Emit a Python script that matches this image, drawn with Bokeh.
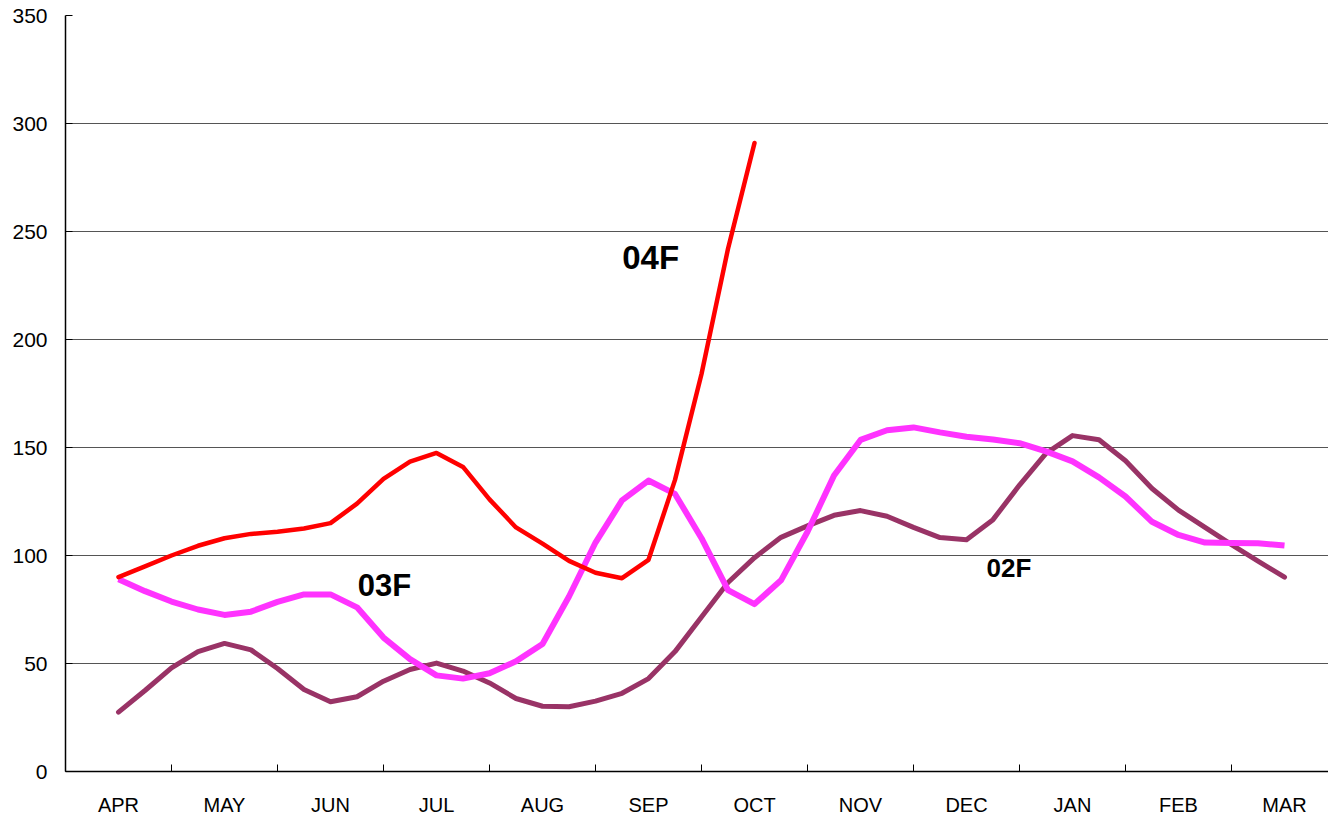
from bokeh.plotting import figure
from bokeh.models import FixedTicker, Range1d, ColumnDataSource
from bokeh.core.properties import value
from bokeh.embed import file_html
from bokeh.resources import INLINE

months = ["APR", "MAY", "JUN", "JUL", "AUG", "SEP", "OCT", "NOV", "DEC", "JAN", "FEB", "MAR"]

# positions in months from APR (quarter-month steps)
x_full = [i * 0.25 for i in range(45)]
x_04f = [i * 0.25 for i in range(25)]

s04f = [90, 95, 100, 104.5, 108, 110, 111, 112.5, 115, 124, 135.5, 143.5, 147.5,
        141, 126, 113, 105.5, 97.5, 92, 89.5, 98, 135, 184, 242, 291]

s03f = [89, 83.5, 78.7, 75, 72.5, 74, 78.5, 82, 82, 76, 62, 52, 44.5,
        43, 45.5, 51, 59, 81, 106, 125.5, 134.7, 128.5, 108, 84, 77.5,
        88.5, 111, 137, 153.5, 158, 159.3, 157, 155, 153.7, 152, 148.2, 143.6,
        136.2, 127.3, 115.6, 109.5, 106, 105.8, 105.7, 104.6]

s02f = [27.5, 37.5, 48, 55.5, 59.3, 56.3, 47.7, 38, 32.3, 34.6, 41.8, 47.2, 50.2,
        46.5, 41, 33.8, 30.2, 30, 32.6, 36.2, 43, 55.5, 71.5, 87.5, 99,
        108.4, 113.7, 118.6, 120.8, 118.2, 113, 108.3, 107.3, 116.6, 132.6, 147.3, 155.5,
        153.6, 143.9, 131, 121, 113, 105, 97.4, 90]

label_text = ["04F", "03F", "02F"]
label_x = [5.02, 2.51, 8.4]
label_y = [238, 86, 94]
label_size = ["33px", "31px", "26px"]

p = figure(width=1328, height=819, output_backend="svg", toolbar_location=None,
           x_range=Range1d(-0.5, 11.415), y_range=Range1d(0, 350),
           min_border_left=65, min_border_right=0, min_border_top=15, min_border_bottom=48)
p.outline_line_color = None
p.background_fill_color = "white"

p.line(x_full, s02f, line_color="#993366", line_width=5, line_join="round", line_cap="round")
p.line(x_full, s03f, line_color="#FF33FF", line_width=6, line_join="round")
p.line(x_04f, s04f, line_color="#FF0000", line_width=4.5, line_join="round", line_cap="round")

src = ColumnDataSource(dict(x=label_x, y=label_y, t=label_text, s=label_size))
p.text(x="x", y="y", text="t", source=src, text_align="center", text_baseline="middle",
       text_font=value("Liberation Sans"), text_font_style="bold", text_font_size="s",
       text_color="black")

# x axis
xa = p.xaxis[0]
xa.ticker = FixedTicker(ticks=list(range(12)), minor_ticks=[k - 0.5 for k in range(13)])
xa.major_label_overrides = {i: m for i, m in enumerate(months)}
xa.major_tick_in = 0
xa.major_tick_out = 0
xa.minor_tick_in = 7
xa.minor_tick_out = 0
xa.minor_tick_line_color = "black"
xa.axis_line_color = "black"
xa.axis_line_width = 1.5
xa.major_label_standoff = 22
xa.major_label_text_font = "Liberation Sans"
xa.major_label_text_font_size = "20px"
xa.major_label_text_color = "black"

# y axis
ya = p.yaxis[0]
ya.ticker = FixedTicker(ticks=[0, 50, 100, 150, 200, 250, 300, 350])
ya.major_tick_in = 7
ya.major_tick_out = 0
ya.minor_tick_in = 0
ya.minor_tick_out = 0
ya.axis_line_color = "black"
ya.axis_line_width = 1.5
ya.major_label_standoff = 18
ya.major_label_text_font = "Liberation Sans"
ya.major_label_text_font_size = "21px"
ya.major_label_text_color = "black"

p.xgrid.grid_line_color = None
p.ygrid.grid_line_color = "#555555"
p.ygrid.grid_line_width = 1.2

open("out.html", "w").write(file_html(p, INLINE))
